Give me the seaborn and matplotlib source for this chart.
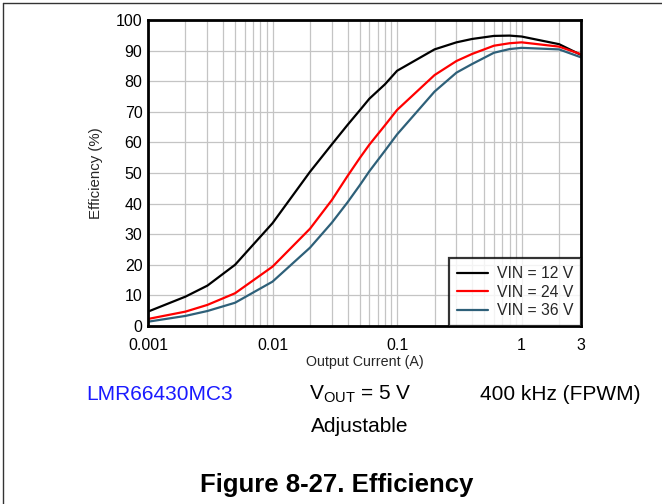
import matplotlib
matplotlib.use("Agg")
import matplotlib.pyplot as plt
import matplotlib.ticker as mticker
from matplotlib.lines import Line2D
import seaborn as sns
import pandas as pd

current = [0.001, 0.002, 0.003, 0.005, 0.01, 0.02, 0.03, 0.04, 0.05, 0.06, 0.08, 0.1, 0.2, 0.3, 0.4, 0.6, 0.8, 1.0, 2.0, 3.0]
eff_12 = [4.7, 9.6, 13.2, 20.0, 33.6, 50.4, 59.4, 65.7, 70.4, 74.3, 79.0, 83.4, 90.4, 92.7, 93.8, 94.8, 94.9, 94.6, 92.1, 88.6]
eff_24 = [2.3, 4.7, 6.9, 10.7, 19.4, 31.8, 41.2, 49.0, 54.8, 59.3, 65.6, 70.6, 82.0, 86.6, 88.9, 91.6, 92.4, 92.7, 91.3, 88.8]
eff_36 = [1.4, 3.3, 4.9, 7.6, 14.5, 25.6, 33.8, 40.4, 45.9, 50.6, 57.3, 62.6, 76.6, 82.8, 85.6, 89.3, 90.5, 90.9, 90.4, 87.8]
series_names = ["VIN = 12 V", "VIN = 24 V", "VIN = 36 V"]
colors = ["#000000", "#ff0000", "#2e6079"]
xtick_vals = [0.001, 0.01, 0.1, 1, 3]
xtick_labels = ["0.001", "0.01", "0.1", "1", "3"]
ytick_vals = list(range(0, 101, 10))

rows = []
for name, vals in zip(series_names, [eff_12, eff_24, eff_36]):
    for c, e in zip(current, vals):
        rows.append({"Current": c, "Efficiency": e, "Series": name})
df = pd.DataFrame(rows)

sns.set_theme(style="white")
plt.rcParams["font.family"] = ["Liberation Sans", "DejaVu Sans"]
plt.rcParams["mathtext.default"] = "regular"

W, H = 662, 504
fig = plt.figure(figsize=(W / 100, H / 100), dpi=100)
fig.patch.set_facecolor("white")
ax = fig.add_axes([148 / W, 1 - 326 / H, 433 / W, 306 / H])

ax.set_xscale("log")
sns.lineplot(data=df, x="Current", y="Efficiency", hue="Series",
             palette=dict(zip(series_names, colors)), linewidth=1.6,
             ax=ax, sort=True, estimator=None)

ax.set_xlim(0.001, 3)
ax.set_ylim(0, 100)
ax.set_xticks(xtick_vals)
ax.set_xticklabels(xtick_labels)
ax.xaxis.set_minor_locator(mticker.LogLocator(base=10, subs=[2, 3, 4, 5, 6, 7, 8, 9], numticks=20))
ax.xaxis.set_minor_formatter(mticker.NullFormatter())
ax.set_yticks(ytick_vals)
ax.tick_params(axis="both", which="both", length=0, labelsize=11.5, colors="black")
ax.tick_params(axis="x", pad=9)
ax.tick_params(axis="y", pad=4)
ax.grid(True, which="both", axis="x", color="#c4c4c4", linewidth=0.9)
ax.grid(True, which="major", axis="y", color="#c4c4c4", linewidth=0.9)
ax.set_axisbelow(True)
for s in ax.spines.values():
    s.set_visible(True)
    s.set_color("black")
    s.set_linewidth(2.0)

ax.set_xlabel("Output Current (A)", fontsize=10.3, labelpad=1)
ax.set_ylabel("Efficiency (%)", fontsize=10.8, labelpad=9)

leg = ax.legend(loc="lower right", fontsize=11.3, frameon=True, fancybox=False,
                borderaxespad=0.0, handlelength=2.0, labelspacing=0.22,
                handletextpad=0.55, borderpad=0.5, title=None)
leg.get_frame().set_edgecolor("black")
leg.get_frame().set_linewidth(1.6)
for lh in leg.get_lines():
    lh.set_linewidth(1.6)

fig.text(160 / W, 1 - 394 / H, "LMR66430MC3", color="#1a1aff", fontsize=15,
         ha="center", va="center")
fig.text(360 / W, 1 - 394 / H, "V$_{OUT}$ = 5 V", color="black", fontsize=15,
         ha="center", va="center")
fig.text(560 / W, 1 - 394 / H, "400 kHz (FPWM)", color="black", fontsize=15,
         ha="center", va="center")
fig.text(360 / W, 1 - 426 / H, "Adjustable", color="black", fontsize=15,
         ha="center", va="center")
fig.text(337 / W, 1 - 485 / H, "Figure 8-27. Efficiency", color="black", fontsize=18.5,
         fontweight="bold", ha="center", va="center")

fig.add_artist(Line2D([3 / W, 1.0], [1 - 3 / H, 1 - 3 / H], transform=fig.transFigure,
                      color="#333333", linewidth=1.0))
fig.add_artist(Line2D([3 / W, 3 / W], [0, 1 - 3 / H], transform=fig.transFigure,
                      color="#333333", linewidth=1.0))

fig.savefig("out.png", dpi=100, facecolor="white")
